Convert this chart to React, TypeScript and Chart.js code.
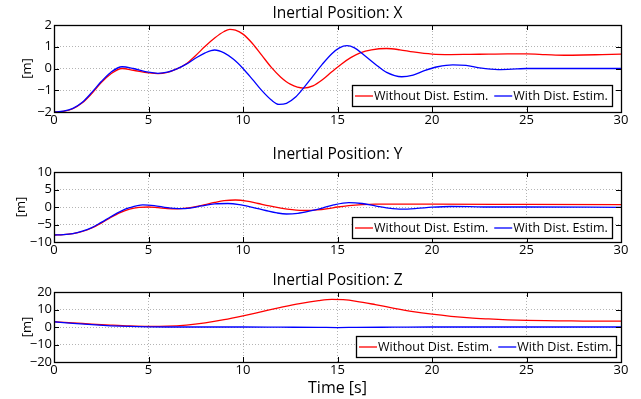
import React, { useEffect, useRef } from "react";
import { Chart, registerables } from "chart.js";
Chart.register(...registerables);

// ---------- data ----------
const xTicks = [0, 5, 10, 15, 20, 25, 30];
const seriesLabels = ["Without Dist. Estim.", "With Dist. Estim."];
const titles = ["Inertial Position: X", "Inertial Position: Y", "Inertial Position: Z"];

const posXRedT = [0, 0.5, 1, 1.5, 2, 2.5, 3, 3.6, 4.2, 5, 5.5, 6, 6.5, 7, 7.5, 8, 8.5, 9, 9.3, 9.6, 10, 10.5, 11, 11.5, 12, 12.5, 13.2, 13.7, 14.2, 14.7, 15.2, 15.7, 16.2, 16.8, 17.6, 18.3, 19, 20, 21, 22, 23, 24, 25, 26, 27, 28, 29, 30];
const posXRedV = [-2, -1.97, -1.85, -1.58, -1.15, -0.65, -0.25, 0.0, -0.08, -0.2, -0.24, -0.18, -0.02, 0.22, 0.6, 1.02, 1.4, 1.7, 1.8, 1.76, 1.58, 1.15, 0.6, 0.05, -0.4, -0.72, -0.9, -0.8, -0.52, -0.15, 0.2, 0.5, 0.72, 0.86, 0.92, 0.86, 0.76, 0.66, 0.64, 0.65, 0.66, 0.67, 0.67, 0.64, 0.61, 0.62, 0.64, 0.66];
const posXBlueT = [0, 0.5, 1, 1.5, 2, 2.5, 3, 3.6, 4.2, 5, 5.5, 6, 6.5, 7, 7.5, 8, 8.5, 9, 9.5, 10, 10.5, 11, 11.5, 11.9, 12.3, 12.8, 13.2, 13.7, 14.2, 14.7, 15.1, 15.5, 15.9, 16.4, 17, 17.6, 18.4, 19, 19.6, 20.3, 21.1, 21.8, 22.5, 23.5, 24.5, 25, 27, 30];
const posXBlueV = [-2, -1.96, -1.83, -1.55, -1.1, -0.6, -0.18, 0.08, 0.0, -0.17, -0.22, -0.17, -0.02, 0.2, 0.48, 0.72, 0.85, 0.72, 0.42, 0.0, -0.5, -1.02, -1.45, -1.65, -1.6, -1.3, -0.9, -0.35, 0.2, 0.68, 0.95, 1.05, 0.95, 0.62, 0.2, -0.18, -0.38, -0.3, -0.1, 0.08, 0.17, 0.14, 0.03, -0.05, -0.02, 0.0, 0.0, 0.0];

const posYRedT = [0, 0.5, 1, 1.5, 2, 2.5, 3, 3.5, 4, 4.5, 5, 5.5, 6, 6.5, 7, 7.5, 8, 8.5, 9, 9.6, 10.2, 10.8, 11.4, 12, 12.6, 13.3, 13.9, 14.5, 15, 15.6, 16.3, 17, 18, 20, 25, 30];
const posYRedV = [-8, -7.9, -7.6, -7.0, -6.0, -4.6, -3.0, -1.6, -0.6, -0.1, 0.0, -0.2, -0.45, -0.55, -0.35, 0.1, 0.7, 1.3, 1.8, 2.0, 1.7, 1.0, 0.3, -0.3, -0.75, -1.0, -0.85, -0.45, 0.0, 0.4, 0.7, 0.85, 0.85, 0.8, 0.75, 0.7];
const posYBlueT = [0, 0.5, 1, 1.5, 2, 2.5, 3, 3.5, 4, 4.7, 5.3, 6, 6.6, 7.2, 7.8, 8.5, 9.2, 9.8, 10.5, 11.2, 11.8, 12.3, 12.9, 13.5, 14.2, 14.8, 15.6, 16.3, 17, 17.7, 18.4, 19.2, 20, 21, 22, 23, 25, 30];
const posYBlueV = [-8, -7.9, -7.6, -6.9, -5.9, -4.4, -2.8, -1.3, -0.2, 0.6, 0.4, -0.2, -0.45, -0.3, 0.3, 0.9, 1.0, 0.7, -0.1, -1.0, -1.7, -2.0, -1.8, -1.2, -0.3, 0.6, 1.25, 1.0, 0.3, -0.3, -0.6, -0.4, -0.05, 0.15, 0.1, 0.0, 0.0, -0.1];

const posZRedT = [0, 1, 2, 3, 4, 5, 6, 7, 8, 9, 10, 11, 12, 13, 14, 14.7, 15.3, 16, 17, 18, 19, 20, 21, 22, 23, 24, 25, 26, 27, 28, 30];
const posZRedV = [3, 2.4, 1.7, 1.1, 0.6, 0.35, 0.45, 1.1, 2.4, 4.2, 6.4, 8.8, 11.2, 13.4, 15.1, 15.8, 15.6, 14.7, 12.8, 10.7, 8.8, 7.3, 6.1, 5.2, 4.6, 4.1, 3.8, 3.6, 3.5, 3.4, 3.3];
const posZBlueT = [0, 1, 2, 3, 4, 5, 6, 8, 10, 12, 14, 15, 16, 18, 20, 25, 30];
const posZBlueV = [3, 2.1, 1.3, 0.7, 0.3, 0.1, 0, 0, 0, -0.1, -0.2, -0.3, -0.2, -0.1, 0, 0, 0];

const yTicksX = [-2, -1, 0, 1, 2];
const yTicksY = [-10, -5, 0, 5, 10];
const yTicksZ = [-20, -10, 0, 10, 20];

// ---------- helpers ----------
const FONT = "'Open Sans', 'DejaVu Sans', sans-serif";
const RED = "#ff0000";
const BLUE = "#0000ff";

function pts(t: number[], v: number[]) {
  return t.map((x, i) => ({ x, y: v[i] }));
}
const minus = (s: string | number) => String(s).replace("-", "\u2212");

const framePlugin = {
  id: "matlabFrame",
  afterDraw(chart: any, _args: any, opts: any) {
    const { ctx, chartArea: a, scales } = chart;
    ctx.save();
    // inward tick marks
    ctx.strokeStyle = "#000";
    ctx.lineWidth = 1;
    const tl = 5;
    ctx.beginPath();
    for (const v of opts.xTicks) {
      const px = Math.round(scales.x.getPixelForValue(v)) + 0.5;
      ctx.moveTo(px, a.bottom);
      ctx.lineTo(px, a.bottom - tl);
      ctx.moveTo(px, a.top);
      ctx.lineTo(px, a.top + tl);
    }
    for (const v of opts.yTicks) {
      const py = Math.round(scales.y.getPixelForValue(v)) + 0.5;
      ctx.moveTo(a.left, py);
      ctx.lineTo(a.left + tl, py);
      ctx.moveTo(a.right, py);
      ctx.lineTo(a.right - tl, py);
    }
    ctx.stroke();
    // box
    ctx.lineWidth = 1.3;
    ctx.strokeRect(Math.round(a.left) + 0.5, Math.round(a.top) + 0.5, Math.round(a.right - a.left), Math.round(a.bottom - a.top));
    // title
    ctx.fillStyle = "#000";
    ctx.font = `15.5px ${FONT}`;
    ctx.textAlign = "center";
    ctx.textBaseline = "middle";
    ctx.fillText(opts.title, (a.left + a.right) / 2, opts.titleY);
    // legend
    ctx.font = `12.5px ${FONT}`;
    const w1 = ctx.measureText(seriesLabels[0]).width;
    const w2 = ctx.measureText(seriesLabels[1]).width;
    const lineLen = 18;
    const gapLT = 1;
    const pad = 3;
    const sep = 6;
    const boxW = Math.round(pad + lineLen + gapLT + w1 + sep + lineLen + gapLT + w2 + pad + 1);
    const boxH = 21;
    const bx = Math.round(a.right - opts.legendRight - boxW);
    const by = Math.round(a.bottom - opts.legendBottom - boxH);
    ctx.fillStyle = "#fff";
    ctx.fillRect(bx, by, boxW, boxH);
    ctx.lineWidth = 1.3;
    ctx.strokeStyle = "#000";
    ctx.strokeRect(bx + 0.5, by + 0.5, boxW, boxH);
    const cy = by + boxH / 2 + 0.5;
    let x = bx + pad;
    ctx.lineWidth = 1.3;
    ctx.strokeStyle = RED;
    ctx.beginPath();
    ctx.moveTo(x, cy);
    ctx.lineTo(x + lineLen, cy);
    ctx.stroke();
    x += lineLen + gapLT;
    ctx.fillStyle = "#000";
    ctx.textAlign = "left";
    ctx.textBaseline = "middle";
    ctx.fillText(seriesLabels[0], x, cy + 0.5);
    x += w1 + sep;
    ctx.strokeStyle = BLUE;
    ctx.beginPath();
    ctx.moveTo(x, cy);
    ctx.lineTo(x + lineLen, cy);
    ctx.stroke();
    x += lineLen + gapLT;
    ctx.fillText(seriesLabels[1], x, cy + 0.5);
    ctx.restore();
  },
};

type PanelProps = {
  top: number;
  height: number;
  areaTop: number;
  areaBottom: number;
  titleCenter: number;
  ylabelCenter: number;
  title: string;
  yMin: number;
  yMax: number;
  yTicks: number[];
  red: { x: number; y: number }[];
  blue: { x: number; y: number }[];
  showXTitle: boolean;
  legendBottom: number;
  legendRight: number;
};

function Panel(p: PanelProps) {
  const ref = useRef<HTMLCanvasElement | null>(null);
  useEffect(() => {
    const padTop = p.areaTop - p.top;
    const xH = p.top + p.height - p.areaBottom;
    const chart = new Chart(ref.current as HTMLCanvasElement, {
      type: "line",
      data: {
        datasets: [
          { label: seriesLabels[0], data: p.red, borderColor: RED, borderWidth: 1.3, pointRadius: 0, cubicInterpolationMode: "monotone", order: 2, fill: false },
          { label: seriesLabels[1], data: p.blue, borderColor: BLUE, borderWidth: 1.3, pointRadius: 0, cubicInterpolationMode: "monotone", order: 1, fill: false },
        ],
      },
      options: {
        animation: false,
        responsive: false,
        events: [],
        layout: { padding: { top: padTop, right: 20, left: 0, bottom: 0 } },
        plugins: {
          legend: { display: false },
          title: { display: false },
          tooltip: { enabled: false },
          matlabFrame: {
            title: p.title,
            titleY: p.titleCenter - p.top,
            xTicks,
            yTicks: p.yTicks,
            legendBottom: p.legendBottom,
            legendRight: p.legendRight,
          },
        } as any,
        scales: {
          x: {
            type: "linear",
            min: 0,
            max: 30,
            afterBuildTicks: (s: any) => { s.ticks = xTicks.map((v) => ({ value: v })); },
            afterFit: (s: any) => { s.height = xH; },
            ticks: { color: "#000", autoSkip: false, font: { family: FONT, size: 13 }, padding: 0, maxRotation: 0, callback: (v: any) => minus(v) },
            grid: { color: "#b4b4b4", lineWidth: 1, drawTicks: false },
            border: { display: false, dash: [1, 2] },
            title: { display: p.showXTitle, text: "Time [s]", color: "#000", font: { family: FONT, size: 16 }, padding: { top: 0, bottom: 1 } },
          },
          y: {
            type: "linear",
            min: p.yMin,
            max: p.yMax,
            afterBuildTicks: (s: any) => { s.ticks = p.yTicks.map((v) => ({ value: v })); },
            afterFit: (s: any) => { s.width = 54; },
            ticks: { color: "#000", autoSkip: false, font: { family: FONT, size: 13 }, padding: 2, callback: (v: any) => minus(v) },
            grid: { color: "#b4b4b4", lineWidth: 1, drawTicks: false },
            border: { display: false, dash: [1, 2] },
            title: { display: true, text: "[m]", color: "#000", font: { family: FONT, size: 13 }, padding: { top: p.ylabelCenter - 7.8, bottom: 0 } },
          },
        },
      },
      plugins: [framePlugin],
    } as any);
    return () => chart.destroy();
  }, []);
  return (
    <canvas
      ref={ref}
      width={641}
      height={p.height}
      style={{ position: "absolute", left: 0, top: p.top, width: 641, height: p.height, display: "block" }}
    />
  );
}

export default function App() {
  return (
    <div style={{ position: "fixed", left: 0, top: 0, width: 641, height: 399, background: "#fff", overflow: "hidden" }}>
      <Panel top={0} height={135} areaTop={25} areaBottom={112} titleCenter={14} ylabelCenter={27} title={titles[0]} yMin={-2} yMax={2} yTicks={yTicksX}
        red={pts(posXRedT, posXRedV)} blue={pts(posXBlueT, posXBlueV)} showXTitle={false} legendBottom={6} legendRight={9} />
      <Panel top={140} height={125} areaTop={172} areaBottom={242} titleCenter={155} ylabelCenter={21} title={titles[1]} yMin={-10} yMax={10} yTicks={yTicksY}
        red={pts(posYRedT, posYRedV)} blue={pts(posYBlueT, posYBlueV)} showXTitle={false} legendBottom={4} legendRight={9} />
      <Panel top={265} height={134} areaTop={292} areaBottom={362} titleCenter={281} ylabelCenter={27} title={titles[2]} yMin={-20} yMax={20} yTicks={yTicksZ}
        red={pts(posZRedT, posZRedV)} blue={pts(posZBlueT, posZBlueV)} showXTitle={true} legendBottom={5} legendRight={5} />
    </div>
  );
}
